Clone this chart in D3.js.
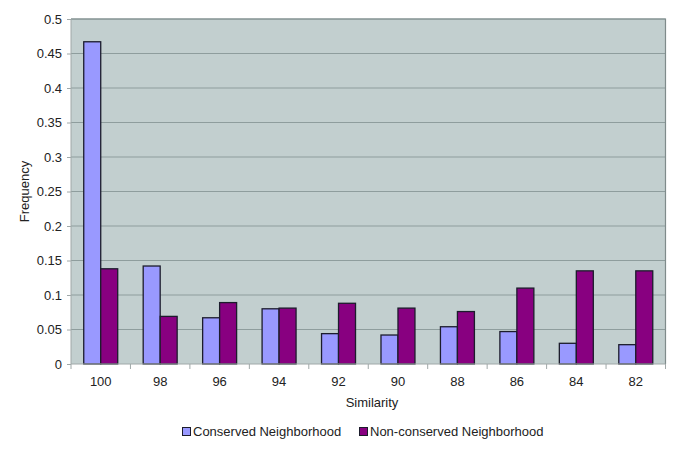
<!DOCTYPE html>
<html><head><meta charset="utf-8">
<script src="https://cdn.jsdelivr.net/npm/d3@7"></script>
<style>body{margin:0;background:#fff}svg{display:block}text{font-family:"Liberation Sans",Arial,sans-serif;fill:#222}</style>
</head><body><div id="chart"></div>
<script>
const categories = ["100","98","96","94","92","90","88","86","84","82"];
const conserved = [0.467,0.142,0.067,0.080,0.044,0.042,0.054,0.047,0.030,0.028];
const nonConserved = [0.138,0.069,0.089,0.081,0.088,0.081,0.076,0.110,0.135,0.135];
const seriesNames = ["Conserved Neighborhood","Non-conserved Neighborhood"];
const seriesColors = ["#9999ff","#880080"];
const yTicks = [0,0.05,0.1,0.15,0.2,0.25,0.3,0.35,0.4,0.45,0.5];

const W=685,H=453, L=71, R=665.5, T=19, B=364;
const svg=d3.select("#chart").append("svg").attr("width",W).attr("height",H);
const x=d3.scaleBand().domain(categories).range([L,R]).paddingInner(0).paddingOuter(0);
const y=d3.scaleLinear().domain([0,0.5]).range([B,T]);

svg.append("rect").attr("x",L).attr("y",T).attr("width",R-L).attr("height",B-T).attr("fill","#c2cfcf");
svg.append("g").selectAll("line").data(yTicks.slice(1)).join("line")
  .attr("x1",L).attr("x2",R).attr("y1",d=>y(d)).attr("y2",d=>y(d))
  .attr("stroke","#8e9d9d").attr("stroke-width",1);
// border top/right
svg.append("path").attr("d",`M${L},${T}H${R}V${B}`).attr("fill","none").attr("stroke","#7f8b8b").attr("stroke-width",1.2);

const gap=1.5, bw=x.bandwidth()/(2+gap);
const data=[conserved,nonConserved];
data.forEach((vals,si)=>{
  svg.append("g").selectAll("rect").data(vals).join("rect")
    .attr("x",(d,i)=>x(categories[i])+bw*gap/2+si*bw)
    .attr("y",d=>y(d)).attr("width",bw).attr("height",d=>B-y(d))
    .attr("fill",seriesColors[si]).attr("stroke","#1c1c2c").attr("stroke-width",1.3);
});

const yAxis=d3.axisLeft(y).tickValues(yTicks).tickFormat(d=>d3.format("")(+d.toFixed(2))).tickSize(4).tickPadding(5);
const gy=svg.append("g").attr("transform",`translate(${L},0)`).call(yAxis);
gy.selectAll("text").style("font-size","13px").attr("fill","#222");
gy.selectAll("line,path").attr("stroke","#a0a8a8");
gy.select(".domain").attr("d",`M0,${T}V${B}`);

const xAxis=d3.axisBottom(x).tickSize(0).tickPadding(13);
const gx=svg.append("g").attr("transform",`translate(0,${B})`).call(xAxis);
gx.selectAll("text").style("font-size","13px").attr("fill","#222");
gx.select(".domain").attr("stroke","#a0a8a8").attr("d",`M${L},0H${R}`);
gx.append("g").selectAll("line").data(d3.range(categories.length+1)).join("line")
  .attr("x1",i=>L+i*x.step()).attr("x2",i=>L+i*x.step()).attr("y1",0).attr("y2",5).attr("stroke","#a0a8a8");

svg.append("text").attr("x",372).attr("y",407).attr("text-anchor","middle").style("font-size","13px").text("Similarity");
svg.append("text").attr("transform","translate(29,191.5) rotate(-90)").attr("text-anchor","middle").style("font-size","13px").text("Frequency");

const leg=[{x:182},{x:359}];
seriesNames.forEach((n,i)=>{
  svg.append("rect").attr("x",leg[i].x+0.5).attr("y",427.5).attr("width",8).attr("height",8)
    .attr("fill",seriesColors[i]).attr("stroke","#1c1c2c").attr("stroke-width",1);
  svg.append("text").attr("x",leg[i].x+11).attr("y",436).style("font-size","13px").text(n);
});
</script></body></html>
